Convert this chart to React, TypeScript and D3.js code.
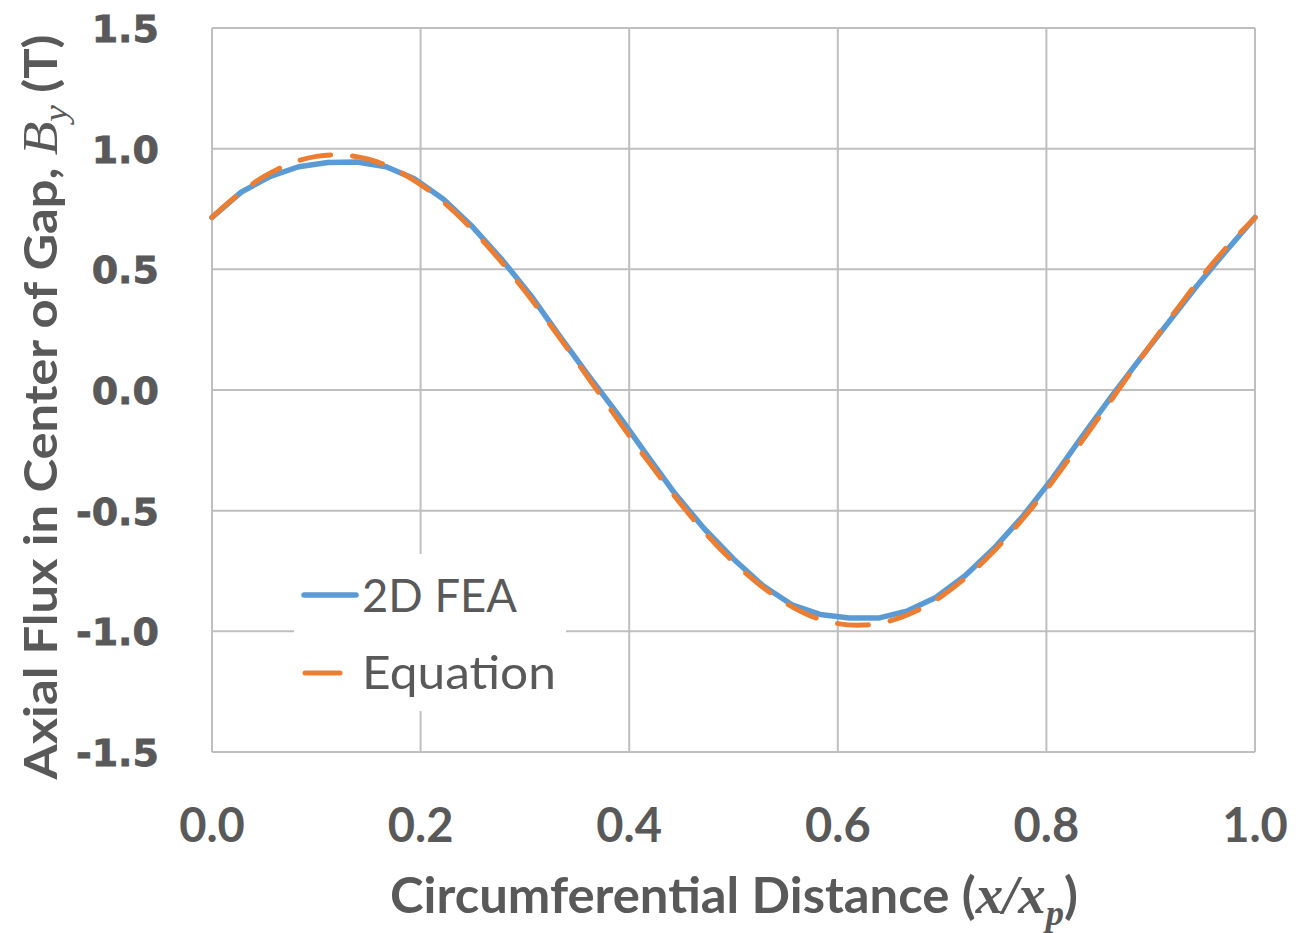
import React from "react";
import * as d3 from "d3";

const feaX = [0, 0.028, 0.056, 0.083, 0.111, 0.139, 0.167, 0.194, 0.222, 0.25, 0.278, 0.306, 0.333, 0.361, 0.389, 0.417, 0.444, 0.472, 0.5, 0.528, 0.556, 0.583, 0.611, 0.639, 0.667, 0.694, 0.722, 0.75, 0.778, 0.806, 0.833, 0.861, 0.889, 0.917, 0.944, 0.972, 1.0];
const feaY = [0.715, 0.82, 0.885, 0.925, 0.943, 0.945, 0.925, 0.875, 0.79, 0.675, 0.54, 0.39, 0.225, 0.06, -0.1, -0.27, -0.43, -0.575, -0.7, -0.81, -0.89, -0.93, -0.945, -0.945, -0.915, -0.86, -0.77, -0.655, -0.52, -0.365, -0.2, -0.035, 0.125, 0.28, 0.43, 0.575, 0.715];

const eqX = [0, 0.025, 0.05, 0.075, 0.1, 0.125, 0.15, 0.175, 0.2, 0.225, 0.25, 0.275, 0.3, 0.325, 0.35, 0.375, 0.4, 0.425, 0.45, 0.475, 0.5, 0.525, 0.55, 0.575, 0.6, 0.625, 0.65, 0.675, 0.7, 0.725, 0.75, 0.775, 0.8, 0.825, 0.85, 0.875, 0.9, 0.925, 0.95, 0.975, 1.0];
const eqY = [0.715, 0.809, 0.885, 0.938, 0.968, 0.974, 0.956, 0.915, 0.851, 0.767, 0.663, 0.543, 0.41, 0.266, 0.116, -0.037, -0.189, -0.335, -0.475, -0.602, -0.713, -0.807, -0.883, -0.938, -0.968, -0.974, -0.957, -0.916, -0.853, -0.769, -0.666, -0.546, -0.413, -0.266, -0.116, 0.037, 0.188, 0.334, 0.475, 0.602, 0.714];

const xTicks = [0, 0.2, 0.4, 0.6, 0.8, 1.0];
const yTicks = [1.5, 1.0, 0.5, 0.0, -0.5, -1.0, -1.5];
const seriesNames = ["2D FEA", "Equation"];

const W = 1296;
const H = 933;
const left = 212, right = 1255, top = 28, bottom = 752;
const textColor = "#595959";
const gridColor = "#bfbfbf";
const blue = "#5b9bd5";
const orange = "#ed7d31";

export default function App() {
  const x = d3.scaleLinear().domain([0, 1]).range([left, right]);
  const y = d3.scaleLinear().domain([-1.5, 1.5]).range([bottom, top]);

  const feaLine = d3
    .line<number>()
    .x((_, i) => x(feaX[i]))
    .y((d) => y(d))
    .curve(d3.curveLinear);
  const eqLine = d3
    .line<number>()
    .x((_, i) => x(eqX[i]))
    .y((d) => y(d))
    .curve(d3.curveCatmullRom);

  const fmtY = (v: number) => (v < 0 ? "-" : "") + Math.abs(v).toFixed(1);

  return (
    <svg width={W} height={H} style={{ position: "absolute", left: 0, top: 0, background: "#fff" }}>
      <rect x={0} y={0} width={W} height={H} fill="#fff" />
      {/* grid */}
      {yTicks.map((t) => (
        <line key={"gy" + t} x1={left} x2={right} y1={y(t)} y2={y(t)} stroke={gridColor} strokeWidth={2} />
      ))}
      {xTicks.map((t) => (
        <line key={"gx" + t} x1={x(t)} x2={x(t)} y1={top} y2={bottom} stroke={gridColor} strokeWidth={2} />
      ))}
      {/* y tick labels */}
      {yTicks.map((t) => (
        <text
          key={"ty" + t}
          x={159}
          y={y(t) + 14}
          textAnchor="end"
          fontFamily="'DejaVu Sans', sans-serif"
          fontWeight="bold"
          fontSize={38}
          fill={textColor}
          stroke={textColor}
          strokeWidth={0.8}
        >
          {fmtY(t)}
        </text>
      ))}
      {/* x tick labels */}
      {xTicks.map((t) => (
        <text
          key={"tx" + t}
          x={x(t)}
          y={842}
          textAnchor="middle"
          fontFamily="Lato, sans-serif"
          fontWeight="bold"
          fontSize={47}
          fill={textColor}
        >
          {t.toFixed(1)}
        </text>
      ))}
      {/* series */}
      <path d={feaLine(feaY) || ""} fill="none" stroke={blue} strokeWidth={5.5} strokeLinejoin="round" strokeLinecap="round" />
      <path
        d={eqLine(eqY) || ""}
        fill="none"
        stroke={orange}
        strokeWidth={5}
        strokeDasharray="31 22"
        strokeLinecap="round"
        strokeLinejoin="round"
      />
      {/* legend */}
      <rect x={294} y={554} width={272} height={157} fill="#fff" />
      <line x1={304} x2={356} y1={595} y2={595} stroke={blue} strokeWidth={5.5} strokeLinecap="round" />
      <line x1={305} x2={340} y1={673} y2={673} stroke={orange} strokeWidth={5} strokeLinecap="round" />
      <text x={362} y={612} fontFamily="Lato, sans-serif" fontSize={47} fill={textColor} textLength={155} lengthAdjust="spacingAndGlyphs">
        {seriesNames[0]}
      </text>
      <text x={362} y={689} fontFamily="Lato, sans-serif" fontSize={47} fill={textColor} textLength={194} lengthAdjust="spacingAndGlyphs">
        {seriesNames[1]}
      </text>
      {/* x axis title */}
      <text
        x={734}
        y={913}
        textAnchor="middle"
        fontFamily="Lato, sans-serif"
        fontWeight="bold"
        fontSize={50}
        fill={textColor}
        textLength={688}
        lengthAdjust="spacingAndGlyphs"
      >
        Circumferential Distance (
        <tspan fontFamily="'Liberation Serif', serif" fontStyle="italic" fontWeight="bold" fontSize={54}>
          x/x
        </tspan>
        <tspan fontFamily="'Liberation Serif', serif" fontStyle="italic" fontWeight="bold" fontSize={36} dy={12}>
          p
        </tspan>
        <tspan dy={-12}>)</tspan>
      </text>
      {/* y axis title */}
      <text
        transform={`translate(57, 407) rotate(-90)`}
        x={0}
        y={0}
        textAnchor="middle"
        fontFamily="Lato, sans-serif"
        fontWeight="bold"
        fontSize={46}
        fill={textColor}
        textLength={745}
        lengthAdjust="spacingAndGlyphs"
      >
        Axial Flux in Center of Gap,{" "}
        <tspan fontFamily="'Liberation Serif', serif" fontStyle="italic" fontWeight="normal" fontSize={50}>
          B
        </tspan>
        <tspan fontFamily="'Liberation Serif', serif" fontStyle="italic" fontWeight="normal" fontSize={34} dy={10}>
          y
        </tspan>
        <tspan dy={-10}> (T)</tspan>
      </text>
    </svg>
  );
}
